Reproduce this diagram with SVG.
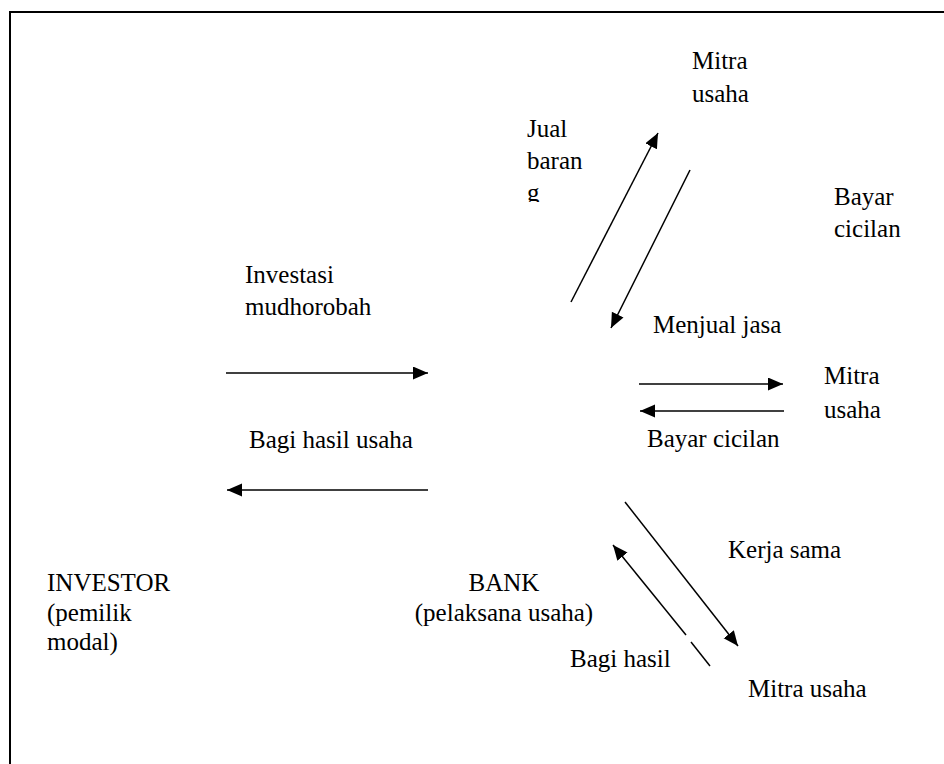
<svg xmlns="http://www.w3.org/2000/svg" width="944" height="764" viewBox="0 0 944 764">
<style>
text{font-family:'Liberation Serif','DejaVu Serif','Times New Roman',serif;font-size:25px;fill:#000}
.c{stroke:#000;stroke-width:1.5;fill:none}
</style>
<defs>
<marker id="ah" markerUnits="userSpaceOnUse" markerWidth="16" markerHeight="14" refX="15" refY="6.5" orient="auto">
<path d="M0,0 L15,6.5 L0,13 z" fill="#000"/>
</marker>
<clipPath id="gclip"><rect x="520" y="150" width="60" height="52"/></clipPath>
</defs>
<rect x="10" y="12" width="960" height="800" fill="#fff" stroke="#000" stroke-width="2"/>
<g id="connectors">
<line class="c" x1="226" y1="373" x2="428" y2="373" marker-end="url(#ah)"/>
<line class="c" x1="428" y1="490" x2="227" y2="490" marker-end="url(#ah)"/>
<line class="c" x1="571" y1="302" x2="658" y2="133" marker-end="url(#ah)"/>
<line class="c" x1="690" y1="170" x2="611" y2="328" marker-end="url(#ah)"/>
<line class="c" x1="639" y1="384" x2="783" y2="384" marker-end="url(#ah)"/>
<line class="c" x1="784" y1="411" x2="640" y2="411" marker-end="url(#ah)"/>
<line class="c" x1="625" y1="502" x2="738" y2="646" marker-end="url(#ah)"/>
<line class="c" x1="710" y1="666" x2="691" y2="642"/>
<line class="c" x1="686" y1="635" x2="613" y2="545" marker-end="url(#ah)"/>
</g>
<g id="investor" font-family="Liberation Serif, serif"><text x="47" y="591">INVESTOR</text><text x="47" y="621">(pemilik</text><text x="47" y="650">modal)</text></g>
<g id="bank" font-family="Liberation Serif, serif"><text x="504" y="591" text-anchor="middle">BANK</text><text x="504" y="621" text-anchor="middle">(pelaksana usaha)</text></g>
<g id="mitra1" font-family="Liberation Serif, serif"><text x="692" y="69">Mitra</text><text x="692" y="102">usaha</text></g>
<g id="mitra2" font-family="Liberation Serif, serif"><text x="824" y="384">Mitra</text><text x="824" y="418">usaha</text></g>
<g id="mitra3" font-family="Liberation Serif, serif"><text x="748" y="697">Mitra usaha</text></g>
<g id="labels" font-family="Liberation Serif, serif">
<text x="245" y="283">Investasi</text><text x="245" y="315">mudhorobah</text>
<text x="249" y="448">Bagi hasil usaha</text>
<text x="527" y="137">Jual</text><text x="527" y="169">baran</text><text x="527" y="201" clip-path="url(#gclip)">g</text>
<text x="834" y="205">Bayar</text><text x="834" y="237">cicilan</text>
<text x="653" y="333">Menjual jasa</text>
<text x="647" y="447">Bayar cicilan</text>
<text x="728" y="558">Kerja sama</text>
<text x="570" y="667">Bagi hasil</text>
</g>
</svg>
